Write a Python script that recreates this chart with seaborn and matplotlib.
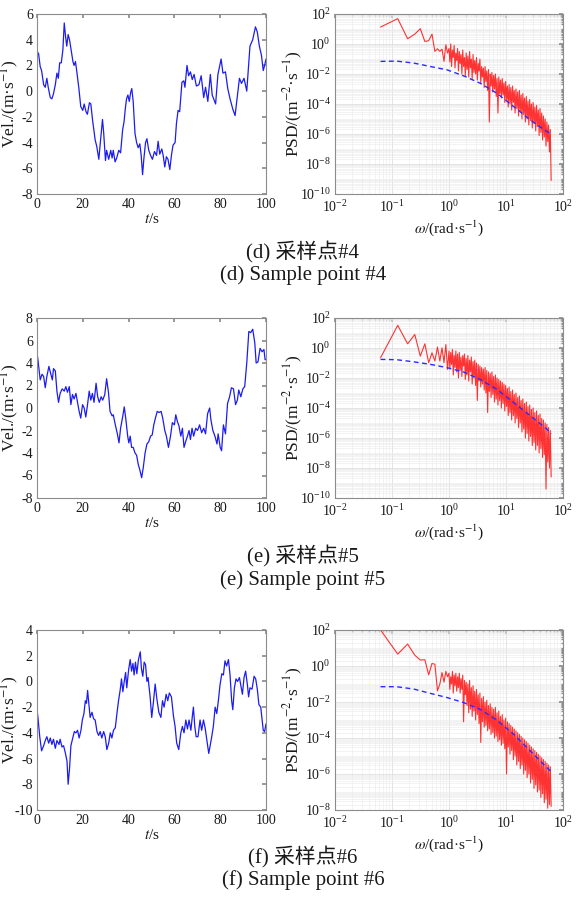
import numpy as np
import seaborn as sns
import matplotlib
matplotlib.use('Agg')
import matplotlib.pyplot as plt
from matplotlib.ticker import LogLocator, NullFormatter

# ---- time series (t in s, velocity in m/s) ----
t_d = [0, 0.7, 1.4, 2.0, 2.9, 3.6, 4.3, 4.9, 5.8, 6.5,
       7.2, 8.0, 8.7, 9.3, 9.9, 10.6, 11.3, 11.9, 12.5, 13.0,
       13.6, 14.2, 14.8, 15.7, 16.2, 16.8, 17.4, 18.3, 19.1, 20.0,
       20.6, 21.4, 22.0, 22.9, 23.5, 24.3, 25.4, 26.1, 27.0, 27.5,
       28.6, 29.1, 29.9, 30.4, 31.3, 32.2, 32.8, 33.3, 34.1, 34.8,
       35.7, 36.5, 37.4, 38.0, 38.6, 39.1, 39.7, 40.3, 40.9, 41.4,
       42.0, 42.8, 43.5, 44.2, 44.9, 45.5, 46.1, 46.7, 47.4, 48.0,
       48.8, 49.6, 50.4, 51.3, 52.2, 52.9, 53.6, 54.5, 55.1, 55.8,
       56.5, 57.2, 58.0, 58.7, 59.4, 60.3, 60.9, 61.6, 62.3, 63.3,
       64.1, 64.6, 65.5, 66.2, 67.0, 67.8, 68.6, 69.6, 70.7, 71.7,
       72.8, 73.6, 74.6, 75.7, 76.5, 78.0, 79.0, 80.4, 81.2, 82.3,
       83.3, 84.3, 85.5, 86.5, 87.4, 88.4, 89.3, 90.4, 91.6, 93.0,
       94.2, 95.4, 96.2, 97.1, 98.0, 98.8, 99.4, 100]
v_d = [3.1, 2.9, 1.9, 1.6, 0.5, 0.3, 1.0, 0.3, -0.5, -0.6,
       -0.2, 0.5, 1.4, 1.0, 2.2, 2.2, 3.2, 5.3, 4.2, 3.5,
       4.4, 4.0, 3.3, 2.3, 2.0, 2.3, 1.5, 0.2, -1.2, -1.5,
       -1.0, -1.6, -1.8, -0.9, -1.0, -2.3, -3.8, -4.3, -5.3, -4.3,
       -2.2, -3.2, -5.4, -4.6, -5.3, -4.6, -5.2, -4.6, -5.5, -5.2,
       -4.6, -4.8, -3.0, -2.4, -1.3, -0.6, -0.3, -0.8, -0.1, 0.2,
       -0.8, -3.3, -4.0, -4.4, -4.1, -5.0, -6.5, -5.2, -4.0, -3.7,
       -4.6, -5.0, -5.3, -4.7, -5.0, -3.9, -4.9, -4.5, -5.0, -5.9,
       -5.1, -5.3, -6.1, -5.0, -4.2, -4.0, -2.5, -1.5, -1.6, 0.7,
       0.8, 0.3, 2.0, 1.2, 1.5, 0.9, 1.3, 0.4, 0.5, 1.2,
       -0.5, 0.3, -0.8, 1.3, -0.3, -1.0, 1.3, 2.5, 1.4, 1.5,
       0.2, -0.6, -1.4, -1.9, -0.5, 1.0, 0.6, 1.0, 0.0, 3.5,
       4.0, 5.0, 4.6, 3.5, 2.8, 1.6, 2.0, 2.5]

t_e = [0, 0.4, 1.4, 2.2, 2.9, 3.6, 4.3, 5.2, 5.8, 6.7,
       7.2, 8.0, 8.7, 9.4, 10.1, 11.0, 11.9, 12.6, 13.3, 14.1,
       14.8, 15.5, 16.2, 17.0, 17.7, 18.4, 19.1, 19.9, 20.6, 21.3,
       22.0, 22.8, 23.5, 24.2, 24.9, 25.8, 26.5, 27.2, 28.0, 28.7,
       29.6, 30.4, 31.2, 31.9, 32.8, 33.3, 34.2, 35.1, 35.8, 36.5,
       37.4, 38.1, 38.8, 39.6, 40.1, 40.7, 41.3, 42.0, 42.8, 43.5,
       44.2, 44.9, 45.7, 46.4, 47.2, 48.0, 48.8, 49.6, 50.3, 51.0,
       51.7, 52.5, 53.3, 54.2, 54.9, 55.8, 56.5, 57.4, 58.3, 59.1,
       60.0, 60.6, 61.3, 62.0, 62.8, 63.5, 64.2, 64.9, 65.7, 66.4,
       67.0, 67.7, 68.4, 69.3, 70.1, 71.0, 71.9, 72.8, 73.6, 74.5,
       75.4, 75.9, 76.8, 77.7, 78.6, 79.1, 80.0, 80.6, 81.4, 82.3,
       83.2, 84.1, 84.9, 85.8, 86.7, 87.5, 88.1, 89.0, 89.9, 90.7,
       91.6, 92.5, 93.3, 94.2, 95.1, 95.7, 96.5, 97.4, 98.3, 99.1,
       99.6, 100]
v_e = [4.9, 4.3, 2.5, 3.0, 2.8, 1.8, 2.8, 3.7, 3.2, 2.5,
       3.5, 3.3, 1.5, 0.5, 1.3, 1.7, 1.5, 1.9, 1.4, 1.9,
       0.3, 1.2, 0.8, 1.3, 0.5, -0.3, -0.9, 0.3, 0.0, -0.8,
       0.2, 1.5, 0.7, 1.3, 0.5, 2.2, 1.0, 0.5, 1.0, 0.7,
       1.2, 2.6, 1.4, -0.3, -0.7, -0.6, -1.5, -2.3, -3.1, -1.8,
       -0.8, 0.1, -1.0, -2.5, -3.1, -2.5, -3.5, -3.5, -4.0, -4.2,
       -5.0, -5.5, -6.2, -5.3, -4.0, -3.2, -3.0, -2.5, -2.4, -1.5,
       -0.9, -0.3, -0.4, -0.3, -0.9, -2.0, -2.5, -3.5, -2.5, -1.3,
       -1.5, -0.6, -1.2, -1.6, -2.5, -1.8, -3.5, -3.0, -2.5, -2.0,
       -2.8, -1.8, -2.5, -1.8, -2.0, -1.5, -2.2, -1.8, -2.3, -0.5,
       0.0, -1.0, -2.0, -2.5, -3.2, -2.3, -3.5, -3.8, -1.5, -2.3,
       0.4, 1.0, 1.8, 1.7, 0.3, 0.7, 1.6, 1.0, 1.7, 1.9,
       4.0, 6.8, 6.7, 7.0, 5.8, 4.0, 4.1, 5.3, 5.0, 5.2,
       4.3, 4.3]

t_f = [0, 0.4, 1.2, 2.0, 2.9, 3.6, 4.3, 5.1, 5.8, 6.5,
       7.2, 8.0, 8.7, 9.6, 10.1, 10.9, 11.6, 12.3, 13.1, 13.6,
       14.2, 14.8, 15.5, 16.3, 17.0, 17.7, 18.4, 19.2, 19.8, 20.5,
       21.1, 21.6, 22.1, 22.7, 23.2, 24.0, 24.7, 25.4, 26.2, 26.9,
       27.6, 28.3, 29.1, 29.8, 30.5, 31.3, 32.0, 32.7, 33.4, 34.2,
       34.9, 35.6, 36.3, 36.9, 37.5, 38.1, 38.7, 39.2, 40.0, 40.7,
       41.3, 41.9, 42.4, 43.0, 43.6, 44.3, 45.1, 45.6, 46.2, 46.8,
       47.4, 48.0, 48.5, 49.4, 50.1, 50.9, 51.6, 52.3, 53.2, 54.1,
       54.8, 55.5, 56.4, 57.1, 57.8, 58.7, 59.6, 60.3, 61.0, 61.9,
       62.8, 63.5, 64.2, 65.0, 65.7, 66.4, 67.2, 67.9, 68.3, 68.9,
       69.5, 70.3, 71.2, 71.9, 72.7, 73.4, 74.1, 75.0, 75.6, 76.3,
       77.0, 77.8, 78.5, 79.2, 79.9, 80.7, 81.4, 82.1, 82.8, 83.6,
       84.3, 85.0, 85.5, 86.2, 86.9, 87.6, 88.4, 89.0, 89.7, 90.4,
       91.1, 91.9, 92.4, 93.0, 93.9, 94.8, 95.5, 96.2, 96.9, 97.7,
       98.3, 98.8, 99.4, 100]
v_f = [-2.2, -2.8, -4.3, -5.4, -5.0, -4.6, -4.3, -4.8, -4.4, -4.9,
       -4.5, -5.2, -4.6, -4.9, -4.5, -5.1, -5.0, -5.5, -6.2, -8.0,
       -6.8, -5.0, -4.5, -3.9, -4.0, -3.8, -4.4, -3.8, -3.0, -2.5,
       -1.5, -1.7, -0.7, -1.8, -2.8, -2.4, -2.9, -3.0, -3.9, -4.2,
       -3.9, -4.4, -3.9, -4.3, -5.3, -4.8, -4.0, -4.4, -3.8, -3.6,
       -2.5, -1.5, -0.7, 0.2, -0.8, 0.0, 0.7, -0.5, 0.9, 1.7,
       0.8, 1.4, 0.5, 1.5, 0.6, 1.7, 2.3, 1.0, 0.4, 1.5,
       1.3, 0.0, 0.3, -1.2, -2.8, -1.5, -0.2, -1.3, -2.4, -2.8,
       -1.5, -2.0, -1.0, -1.5, -0.9, -1.2, -2.7, -3.5, -4.8, -5.3,
       -4.0, -3.5, -4.0, -3.0, -3.7, -3.0, -3.8, -2.6, -2.0, -3.5,
       -4.3, -4.3, -3.0, -3.8, -3.0, -3.6, -4.5, -5.6, -5.0, -4.3,
       -3.5, -2.0, -2.5, -1.5, -0.3, 0.6, 0.5, 1.6, 1.2, 1.7,
       0.5, -1.5, -2.2, -0.5, 0.2, 0.0, 0.3, -0.3, -1.0, 0.3,
       0.8, -0.3, -1.2, -0.5, -0.6, 0.4, 0.2, -0.6, -1.8, -2.0,
       -3.0, -3.8, -3.9, -3.3]

# ---- spectra: log10(PSD) ----
# first DFT frequencies (rad/s), then a dense band up to ~62 rad/s
w_lo = [0.063, 0.126, 0.188, 0.251, 0.314, 0.377, 0.440, 0.503,
        0.565, 0.628, 0.691, 0.754, 0.817, 0.880, 0.942]
w_hi = np.geomspace(1.0, 62.0, 120)

psd_lo_d = [1.13, 1.69, 0.35, 0.66, 1.02, 0.17, 0.22, 0.66,
            -0.49, -0.32, -0.49, -0.34, -1.16, -0.05, -0.6]
psd_hi_d = [-0.3, -1.2, 0.0, -1.5, -0.4, -0.9, -0.1, -1.6, -0.6, -1.1,
            -0.3, -1.8, -0.5, -1.3, -0.7, -2.0, -0.4, -1.5, -0.9, -2.1,
            -0.6, -1.7, -0.8, -2.2, -0.5, -1.6, -1.0, -2.3, -0.7, -1.9,
            -1.1, -2.0, -0.9, -2.4, -1.3, -1.8, -1.0, -2.6, -1.5, -2.2,
            -1.6, -2.9, -1.5, -2.5, -1.8, -3.1, -1.7, -5.2, -2.0, -2.8,
            -1.9, -3.2, -2.1, -3.0, -2.0, -3.5, -2.3, -4.6, -2.2, -3.3,
            -2.4, -3.6, -2.3, -3.4, -2.6, -3.9, -2.5, -3.7, -2.8, -4.2,
            -2.7, -4.0, -2.9, -4.4, -2.8, -3.9, -3.1, -4.6, -3.0, -4.3,
            -3.2, -4.8, -3.1, -4.5, -3.4, -5.0, -3.3, -4.7, -3.6, -5.2,
            -3.5, -5.0, -3.8, -5.4, -3.7, -5.1, -4.0, -5.6, -3.9, -5.3,
            -4.2, -5.8, -4.1, -5.5, -4.4, -6.1, -4.3, -5.9, -4.6, -6.4,
            -4.8, -6.2, -5.0, -6.8, -5.2, -6.5, -5.4, -7.2, -5.7, -9.1]

psd_lo_e = [-0.65, 1.51, 0.28, 0.90, -0.54, 0.28, -0.98, -0.32,
            -0.87, 0.06, -0.87, 0.01, -0.98, 0.23, -1.43]
psd_hi_e = [-0.2, -1.4, -0.3, -1.1, -0.1, -1.8, -0.5, -1.3, -0.2, -1.6,
            -0.4, -2.0, -0.3, -1.5, -0.6, -1.9, -0.5, -1.2, -0.4, -2.1,
            -0.7, -1.8, -0.5, -2.2, -0.8, -1.6, -0.6, -2.4, -0.9, -2.0,
            -0.8, -2.5, -1.0, -3.5, -1.1, -2.2, -1.2, -2.6, -1.3, -2.4,
            -1.4, -2.8, -1.3, -3.0, -1.5, -4.3, -1.6, -2.9, -1.7, -3.3,
            -1.6, -3.1, -1.9, -3.6, -1.8, -3.4, -2.0, -3.8, -2.1, -3.5,
            -2.2, -4.0, -2.3, -3.7, -2.4, -4.2, -2.5, -3.9, -2.7, -4.5,
            -2.6, -4.3, -2.9, -4.8, -2.8, -4.5, -3.1, -5.0, -3.0, -4.7,
            -3.3, -5.3, -3.2, -5.0, -3.5, -5.6, -3.4, -5.4, -3.7, -6.0,
            -3.6, -5.7, -3.9, -6.2, -3.8, -5.9, -4.1, -6.5, -4.0, -6.3,
            -4.3, -6.8, -4.2, -6.5, -4.5, -7.0, -4.4, -6.7, -4.7, -7.3,
            -4.8, -7.1, -5.0, -9.4, -5.1, -7.6, -5.3, -8.0, -5.5, -8.6]

psd_lo_f = [2.0, 0.66, 1.22, 0.6, 0.33, 0.35, -0.49, 0.14,
            0.1, -1.38, -1.0, -0.36, -0.9, -0.3, -0.6]
psd_hi_f = [-0.4, -1.3, -0.6, -1.0, -0.3, -1.5, -0.5, -1.1, -0.4, -1.4,
            -0.6, -1.2, -0.4, -1.5, -0.7, -1.3, -0.5, -3.1, -0.8, -1.6,
            -0.9, -2.2, -1.0, -2.6, -0.8, -2.4, -1.2, -2.8, -1.1, -2.5,
            -1.4, -3.0, -1.3, -2.7, -1.6, -3.2, -1.5, -4.25, -1.8, -3.1,
            -1.7, -3.4, -2.0, -3.3, -1.9, -3.6, -2.2, -3.5, -2.1, -3.8,
            -2.3, -3.7, -2.4, -4.0, -2.3, -3.9, -2.6, -4.2, -2.5, -4.1,
            -2.8, -4.4, -2.7, -4.3, -3.0, -4.6, -2.9, -6.0, -3.1, -4.5,
            -3.2, -4.9, -3.3, -4.7, -3.4, -5.2, -3.5, -5.0, -3.6, -5.5,
            -3.7, -5.3, -3.8, -5.7, -3.9, -5.5, -4.0, -6.0, -4.1, -5.8,
            -4.2, -6.2, -4.3, -6.0, -4.4, -6.5, -4.5, -6.3, -4.6, -6.8,
            -4.7, -6.6, -4.8, -7.0, -4.9, -6.9, -5.0, -7.3, -5.1, -7.1,
            -5.2, -7.6, -5.3, -7.4, -5.4, -7.9, -5.5, -7.7, -5.6, -7.8]

# target (model) spectrum, dashed blue
w_model = [0.063, 0.12, 0.24, 0.47, 0.92, 1.8, 3.5, 6.9, 13.6, 26.7, 52.0, 62.0]
model_d = [-1.16, -1.14, -1.27, -1.50, -1.72, -2.12, -2.61, -3.28, -4.17, -5.06, -5.84, -5.95]
model_e = [-0.76, -0.78, -0.92, -1.09, -1.31, -1.60, -2.09, -2.75, -3.64, -4.52, -5.40, -5.73]
model_f = [-1.15, -1.15, -1.28, -1.52, -1.75, -2.03, -2.40, -3.01, -3.79, -4.72, -5.64, -5.87]

captions = [('(d) 采样点#4', '(d) Sample point #4'),
            ('(e) 采样点#5', '(e) Sample point #5'),
            ('(f) 采样点#6', '(f) Sample point #6')]


sns.set_theme(style='white')
plt.rcParams['font.family'] = ['Liberation Serif', 'Noto Sans CJK SC']
plt.rcParams['mathtext.fontset'] = 'stix'
plt.rcParams['axes.unicode_minus'] = False

W, H = 576, 906


def style_box(ax):
    for sp in ax.spines.values():
        sp.set_color('#8c8c8c')
        sp.set_linewidth(0.8)
    ax.tick_params(which='both', direction='in', colors='#8c8c8c',
                   labelcolor='#1a1a1a', labelsize=10, pad=3,
                   top=True, right=True)
    ax.tick_params(which='major', length=3)
    ax.tick_params(which='minor', length=1.5)


def draw_velocity(ax, t, v, ylo, yhi):
    sns.lineplot(x=t, y=v, ax=ax, color='#1c1cf0', lw=0.9,
                 estimator=None, sort=False)
    ax.set_xlim(0, 100)
    ax.set_ylim(ylo, yhi)
    ax.set_xticks(range(0, 101, 20))
    ax.set_yticks(range(ylo, yhi + 1, 2))
    ax.set_xlabel('$t$/s', fontsize=11, color='#1a1a1a')
    ax.set_ylabel('Vel./(m·s$^{-1}$)', fontsize=12.5, color='#1a1a1a')
    ax.xaxis.set_label_coords(0.5, -0.10)
    ax.yaxis.set_label_coords(-0.07, 0.5)
    style_box(ax)


def draw_psd(ax, p_lo, p_hi, p_model, ylo):
    ax.set_xscale('log')
    ax.set_yscale('log')
    w = np.concatenate([w_lo, w_hi])
    p = 10.0 ** np.concatenate([p_lo, p_hi])
    sns.lineplot(x=w, y=p, ax=ax, color='#ff1010', lw=0.8, alpha=0.85,
                 estimator=None, sort=False)
    sns.lineplot(x=w_model, y=10.0 ** np.array(p_model), ax=ax,
                 color='#2a2aff', lw=1.0, linestyle='--',
                 estimator=None, sort=False)
    ax.lines[-1].set_dashes([3.5, 2.5])
    ax.set_xlim(1e-2, 1e2)
    ax.set_ylim(10.0 ** ylo, 1e2)
    ax.set_xticks([1e-2, 1e-1, 1e0, 1e1, 1e2])
    ax.set_yticks([10.0 ** e for e in range(ylo, 3, 2)])
    ax.xaxis.set_minor_locator(LogLocator(base=10, subs=np.arange(2, 10), numticks=50))
    ax.yaxis.set_minor_locator(LogLocator(base=10, subs=np.arange(1, 10), numticks=50))
    ax.xaxis.set_minor_formatter(NullFormatter())
    ax.yaxis.set_minor_formatter(NullFormatter())
    ax.grid(True, which='major', color='#d9d9d9', lw=0.5)
    ax.grid(True, which='minor', color='#ebebeb', lw=0.4)
    ax.set_axisbelow(True)
    ax.set_xlabel('$\\omega$/(rad·s$^{-1}$)', fontsize=11, color='#1a1a1a')
    ax.set_ylabel('PSD/(m$^{-2}$·s$^{-1}$)', fontsize=12.5, color='#1a1a1a')
    ax.xaxis.set_label_coords(0.5, -0.135)
    ax.yaxis.set_label_coords(-0.13, 0.5)
    style_box(ax)
    ax.tick_params(axis='x', which='both', pad=3.5)


fig = plt.figure(figsize=(W / 100, H / 100), dpi=100)

rows = [
    (194, t_d, v_d, -8, 6, psd_lo_d, psd_hi_d, model_d, -10, (252, 275)),
    (498, t_e, v_e, -8, 8, psd_lo_e, psd_hi_e, model_e, -10, (556, 580)),
    (810, t_f, v_f, -10, 4, psd_lo_f, psd_hi_f, model_f, -8, (857, 880)),
]

for i, (bot, t, v, ylo, yhi, plo, phi, pm, pylo, capy) in enumerate(rows):
    ax1 = fig.add_axes([37 / W, 1 - bot / H, 229 / W, 180 / H])
    draw_velocity(ax1, t, v, ylo, yhi)

    ax2 = fig.add_axes([335 / W, 1 - bot / H, 228 / W, 180 / H])
    draw_psd(ax2, plo, phi, pm, pylo)

    fig.text(303 / W, 1 - capy[0] / H, captions[i][0], ha='center', va='center',
             fontsize=15, color='#1a1a1a')
    fig.text(303 / W, 1 - capy[1] / H, captions[i][1], ha='center', va='center',
             fontsize=15, color='#1a1a1a')

fig.savefig('out.png', dpi=100)
